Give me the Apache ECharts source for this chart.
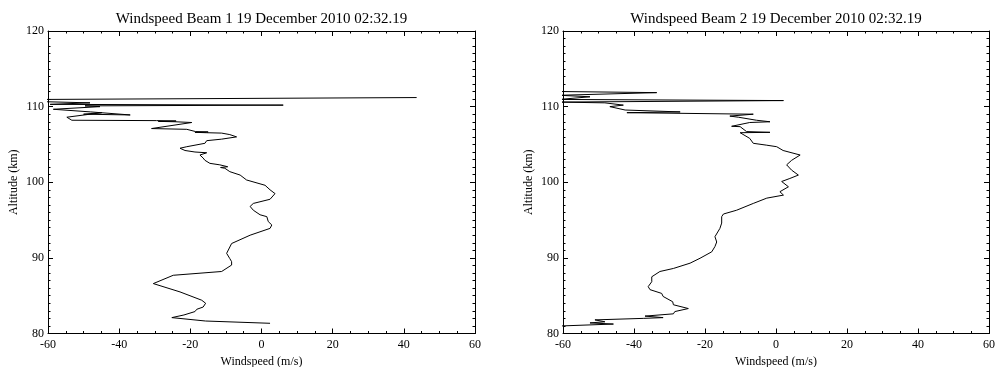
<!DOCTYPE html>
<html>
<head>
<meta charset="utf-8">
<script src="https://cdn.jsdelivr.net/npm/echarts@6/dist/echarts.min.js"></script>
<style>
  html, body { margin: 0; padding: 0; background: #fff; }
  #chart { width: 995px; height: 367px; }
</style>
</head>
<body>
<div id="chart"></div>
<script>
// x ticks, y ticks
var speedTicks = [-60, -40, -20, 0, 20, 40, 60];
var altTicks = [80, 90, 100, 110, 120];
var titles = ['Windspeed Beam 1 19 December 2010 02:32.19', 'Windspeed Beam 2 19 December 2010 02:32.19'];

// Beam 1 profile, bottom to top (m/s, km)
var beam1Speed = [2.4, -15.7, -25.2, -21.8, -18.7, -18.2, -16.4, -15.7, -16.8, -22.9, -30.4, -30.9, -24.8, -11.2, -8.4, -8.4, -8.9, -9.8, -8.4, -3.2,
  2.4, 2.9, 1.9, 1.5, -0.4, -2.3, -3.2, -2.3, 2.4, 3.8, 2.4, 1.0, -4.2, -6.0, -8.9, -10.3, -11.5, -9.5, -11.7, -14.5,
  -15.9, -16.4, -17.3, -15.4, -18.7, -21.5, -22.9, -21.0, -15.9, -15.4, -11.2, -7.0, -8.9, -11.2, -15.4, -18.7, -15.0, -18.5, -21.0, -30.9,
  -19.6, -24.3, -29.0, -24.0, -29.5, -53.3, -54.7, -44.9, -50.0, -36.9, -48.0, -58.5, -45.4, -49.6, 6.1, -59.4, -48.2, -61, -61, 43.6];
var beam1Alt = [81.35, 81.65, 82.1, 82.45, 82.9, 83.2, 83.5, 84.0, 84.4, 85.5, 86.6, 86.8, 87.7, 88.2, 89.05, 89.5, 89.9, 90.6, 91.9, 93.0,
  93.9, 94.35, 94.8, 95.45, 95.7, 96.3, 96.8, 97.2, 97.75, 98.5, 99.0, 99.6, 100.3, 100.95, 101.4, 101.85, 101.95, 102.05, 102.3, 102.5,
  102.9, 103.2, 103.6, 103.9, 104.0, 104.2, 104.5, 104.7, 105.15, 105.5, 105.7, 106.0, 106.3, 106.5, 106.55, 106.6, 106.65, 106.7, 107.0, 107.1,
  107.9, 108.0, 108.05, 108.1, 108.15, 108.2, 108.6, 109.2, 109.0, 108.9, 109.3, 109.65, 110.0, 110.1, 110.2, 110.3, 110.5, 110.65, 110.95, 111.2];

// Beam 2 profile, bottom to top
var beam2Speed = [-60.5, -45.8, -52.4, -48.2, -51.0, -37.4, -31.8, -36.9, -28.9, -28.5, -24.7, -28.9, -29.1, -31.8, -32.2, -35.5, -36.0, -35.0, -35.0, -32.7,
  -28.9, -24.2, -21.4, -18.1, -17.2, -16.7, -17.2, -15.8, -15.3, -15.3, -14.8, -11.1, -6.4, -2.6, 2.1, 1.1, 3.5, 1.6, 3.9, 6.3,
  4.4, 3.0, 4.4, 6.8, 2.0, 0.2, -2.6, -6.4, -7.4, -10.1, -1.7, -8.3, -10.1, -12.5, -7.4, -1.7, -5.5, -10.6, -13.0, -6.4,
  -42.0, -27.0, -42.5, -46.8, -43.0, -48.2, -61, 2.1, -61, -52.4, -61, -33.6, -61];
var beam2Alt = [81.0, 81.25, 81.4, 81.55, 81.8, 82.0, 82.1, 82.3, 82.6, 82.9, 83.3, 83.8, 84.2, 84.9, 85.3, 85.8, 86.2, 86.85, 87.5, 88.2,
  88.6, 89.3, 89.95, 90.8, 91.5, 92.1, 92.8, 93.9, 94.6, 95.45, 95.8, 96.3, 97.2, 97.9, 98.3, 98.75, 99.4, 100.1, 100.5, 100.95,
  101.6, 102.3, 102.9, 103.6, 104.2, 104.7, 104.9, 105.15, 105.8, 106.55, 106.6, 106.7, 107.35, 107.4, 107.9, 108.0, 108.2, 108.6, 108.75, 109.0,
  109.2, 109.3, 109.55, 110.0, 110.2, 110.5, 110.6, 110.8, 110.95, 111.3, 111.5, 111.85, 112.0];

var FONT = '"Liberation Serif", "DejaVu Serif", serif';

function zip(xs, ys) {
  var out = [];
  for (var i = 0; i < xs.length; i++) {
    out.push([xs[i], ys[i]]);
  }
  return out;
}

// outerBoundsMode none: keep the plot boxes where they are in the picture
var grids = [
  {left: 48, right: 520, top: 31, bottom: 33.5, outerBoundsMode: 'none', containLabel: false},
  {left: 563, right: 6, top: 31, bottom: 33.5, outerBoundsMode: 'none', containLabel: false}
];

var lineStyle = {color: '#000', width: 1};

// x axis: bottom one with labels, top one only ticks
function xAxisFor(gridIndex, withLabels) {
  return {
    type: 'value', gridIndex: gridIndex,
    position: withLabels ? 'bottom' : 'top',
    min: speedTicks[0], max: speedTicks[speedTicks.length - 1],
    interval: speedTicks[1] - speedTicks[0],
    name: withLabels ? 'Windspeed (m/s)' : '',
    nameLocation: 'middle', nameGap: 18,
    nameTextStyle: {fontFamily: FONT, fontSize: 12, color: '#000'},
    axisLine: {show: true, onZero: false, lineStyle: lineStyle},
    axisTick: {show: true, inside: true, length: 5, lineStyle: lineStyle},
    minorTick: {show: true, splitNumber: 4, length: 2.5, lineStyle: lineStyle},
    axisLabel: {show: withLabels, margin: 5, fontFamily: FONT, fontSize: 12, color: '#000'},
    splitLine: {show: false}
  };
}

function yAxisFor(gridIndex, withLabels) {
  return {
    type: 'value', gridIndex: gridIndex,
    position: withLabels ? 'left' : 'right',
    min: altTicks[0], max: altTicks[altTicks.length - 1],
    interval: altTicks[1] - altTicks[0],
    name: withLabels ? 'Altitude (km)' : '',
    nameLocation: 'middle', nameGap: 28,
    nameTextStyle: {fontFamily: FONT, fontSize: 12, color: '#000'},
    axisLine: {show: true, onZero: false, lineStyle: lineStyle},
    axisTick: {show: true, inside: true, length: 5, lineStyle: lineStyle},
    minorTick: {show: true, splitNumber: 10, length: 2.5, lineStyle: lineStyle},
    axisLabel: {show: withLabels, margin: 4, fontFamily: FONT, fontSize: 12, color: '#000'},
    splitLine: {show: false}
  };
}

var myChart = echarts.init(document.getElementById('chart'), null, {renderer: 'canvas'});
var option = {
  backgroundColor: '#fff',
  animation: false,
  title: [
    {text: titles[0], left: 261.5, textAlign: 'center', top: 12, padding: 0,
      textStyle: {fontFamily: FONT, fontSize: 15, fontWeight: 'normal', color: '#000'}},
    {text: titles[1], left: 776, textAlign: 'center', top: 12, padding: 0,
      textStyle: {fontFamily: FONT, fontSize: 15, fontWeight: 'normal', color: '#000'}}
  ],
  grid: grids,
  xAxis: [xAxisFor(0, true), xAxisFor(0, false), xAxisFor(1, true), xAxisFor(1, false)],
  yAxis: [yAxisFor(0, true), yAxisFor(0, false), yAxisFor(1, true), yAxisFor(1, false)],
  series: [
    {type: 'line', xAxisIndex: 0, yAxisIndex: 0, data: zip(beam1Speed, beam1Alt),
      showSymbol: false, clip: true, lineStyle: {color: '#000', width: 1}},
    {type: 'line', xAxisIndex: 2, yAxisIndex: 2, data: zip(beam2Speed, beam2Alt),
      showSymbol: false, clip: true, lineStyle: {color: '#000', width: 1}}
  ]
};
myChart.setOption(option);
</script>
</body>
</html>
